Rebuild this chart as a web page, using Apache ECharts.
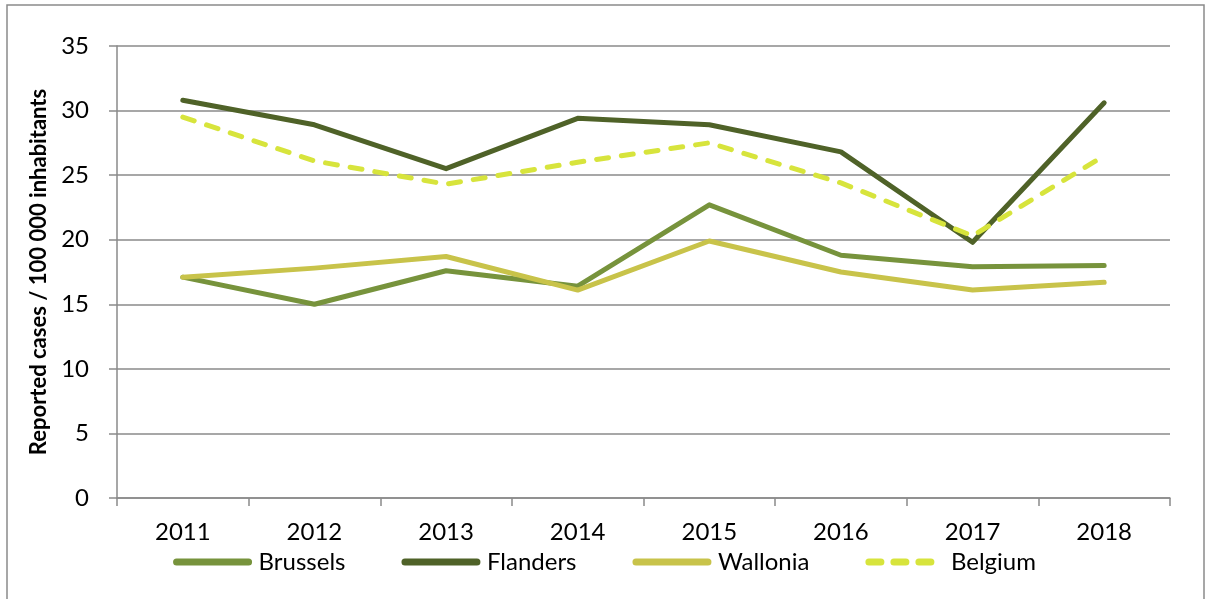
<!DOCTYPE html>
<html>
<head>
<meta charset="utf-8">
<script src="https://cdn.jsdelivr.net/npm/echarts@6/dist/echarts.min.js"></script>
<style>
  html, body { margin: 0; padding: 0; background: #fff; }
  #chart { width: 1209px; height: 599px; }
</style>
</head>
<body>
<div id="chart"></div>
<script>
// years and reported cases per 100 000 inhabitants
const years = ['2011', '2012', '2013', '2014', '2015', '2016', '2017', '2018'];
const brussels = [17.1, 15.0, 17.6, 16.4, 22.7, 18.8, 17.9, 18.0];
const flanders = [30.8, 28.9, 25.5, 29.4, 28.9, 26.8, 19.8, 30.6];
const wallonia = [17.1, 17.8, 18.7, 16.1, 19.9, 17.5, 16.1, 16.7];
const belgium = [29.5, 26.1, 24.3, 26.0, 27.5, 24.4, 20.3, 26.5];

const font = 'Lato, "Open Sans", sans-serif';

function lineSeries(name, data, color, dashed) {
  return {
    name: name,
    type: 'line',
    data: data,
    showSymbol: false,
    symbol: 'none',
    lineStyle: {
      color: color,
      width: 5,
      cap: 'round',
      join: 'round',
      type: dashed ? [12, 13] : 'solid'
    },
    itemStyle: { color: color }
  };
}

const myChart = echarts.init(document.getElementById('chart'), null, { renderer: 'canvas' });

myChart.setOption({
  animation: false,
  textStyle: { fontFamily: font },
  graphic: [
    {
      type: 'rect',
      shape: { x: 7, y: 5, width: 1197, height: 620 },
      style: { fill: 'none', stroke: '#8a8a8a', lineWidth: 1.5 },
      silent: true
    }
  ],
  grid: { left: 117, right: 39, top: 46, bottom: 101 },
  legend: {
    bottom: 20,
    left: 'center',
    itemWidth: 72,
    itemHeight: 10,
    itemGap: 56,
    itemStyle: { opacity: 0, borderWidth: 0 },
    lineStyle: { width: 7, cap: 'round' },
    textStyle: { fontFamily: font, fontSize: 24, color: '#000', padding: [0, 0, 0, 5] },
    data: ['Brussels', 'Flanders', 'Wallonia', 'Belgium']
  },
  xAxis: {
    type: 'category',
    data: years,
    boundaryGap: true,
    axisLine: { lineStyle: { color: '#8a8a8a', width: 1.5 } },
    axisTick: { show: true, length: 8, alignWithLabel: false, lineStyle: { color: '#8a8a8a', width: 1.5 } },
    axisLabel: { color: '#000', fontSize: 24, fontFamily: font, margin: 22 }
  },
  yAxis: {
    type: 'value',
    min: 0,
    max: 35,
    interval: 5,
    name: 'Reported cases / 100 000 inhabitants',
    nameLocation: 'middle',
    nameGap: 60,
    nameTextStyle: { color: '#000', fontSize: 22, fontWeight: 'bold', fontFamily: font },
    axisLine: { show: true, lineStyle: { color: '#8a8a8a', width: 1.5 } },
    axisTick: { show: true, length: 8, lineStyle: { color: '#8a8a8a', width: 1.5 } },
    axisLabel: { color: '#000', fontSize: 24, fontFamily: font, margin: 28 },
    splitLine: { lineStyle: { color: '#8a8a8a', width: 1.5 } }
  },
  series: [
    lineSeries('Brussels', brussels, '#77933c', false),
    lineSeries('Flanders', flanders, '#4f6228', false),
    lineSeries('Wallonia', wallonia, '#c8c34a', false),
    lineSeries('Belgium', belgium, '#d7e43c', true)
  ]
});

window.onresize = function () {
  myChart.resize();
};
</script>
</body>
</html>
